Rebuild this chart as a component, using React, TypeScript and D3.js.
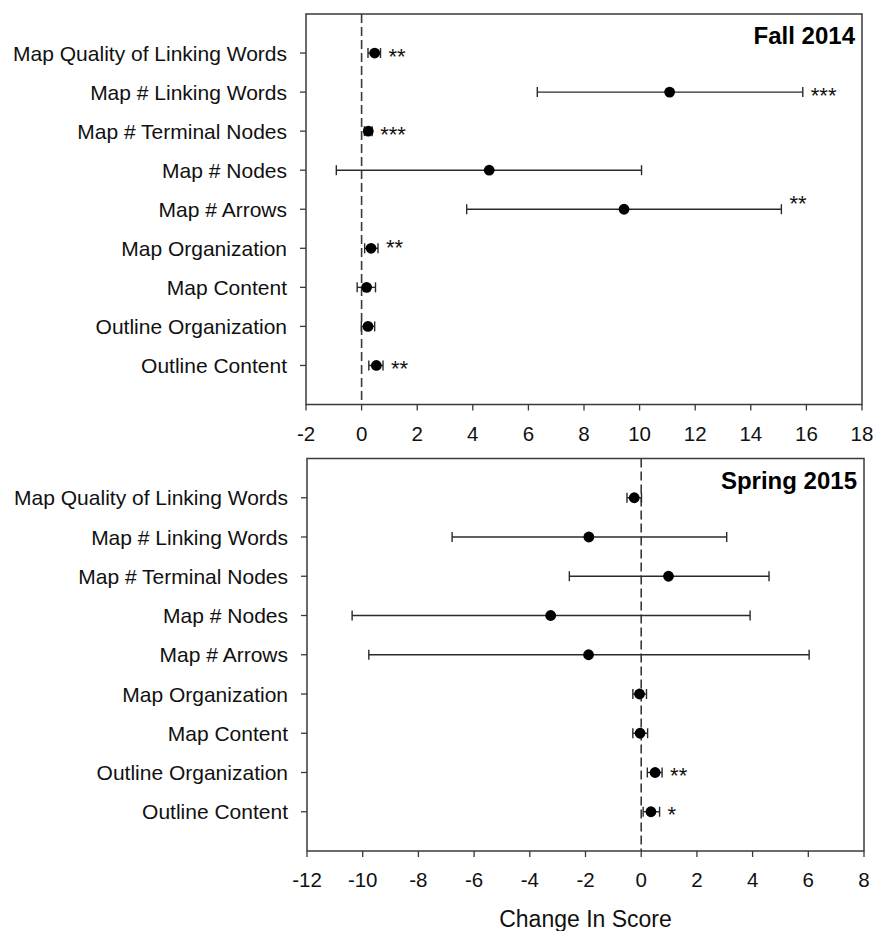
import React from "react";
import * as d3 from "d3";

const categories = [
  "Map Quality of Linking Words",
  "Map # Linking Words",
  "Map # Terminal Nodes",
  "Map # Nodes",
  "Map # Arrows",
  "Map Organization",
  "Map Content",
  "Outline Organization",
  "Outline Content",
];

const fallMean = [0.47, 11.08, 0.24, 4.59, 9.44, 0.34, 0.18, 0.23, 0.53];
const fallLow = [0.23, 6.32, 0.1, -0.91, 3.78, 0.11, -0.16, -0.01, 0.26];
const fallHigh = [0.68, 15.87, 0.38, 10.07, 15.1, 0.59, 0.5, 0.47, 0.77];
const fallStars = ["**", "***", "***", "", "**", "**", "", "", "**"];
const fallTicks = [-2, 0, 2, 4, 6, 8, 10, 12, 14, 16, 18];

const springMean = [-0.25, -1.88, 0.98, -3.25, -1.89, -0.06, -0.04, 0.5, 0.35];
const springLow = [-0.51, -6.79, -2.58, -10.38, -9.78, -0.3, -0.3, 0.22, 0.07];
const springHigh = [0.01, 3.07, 4.59, 3.91, 6.03, 0.19, 0.23, 0.75, 0.66];
const springStars = ["", "", "", "", "", "", "", "**", "*"];
const springTicks = [-12, -10, -8, -6, -4, -2, 0, 2, 4, 6, 8];

const xAxisTitle = "Change In Score";

// layout-only tweaks for annotation vertical offsets (px)
const fallStarRaise = [0, 0, 0, 0, -9, -4, 0, 0, 0];
const springStarRaise = [0, 0, 0, 0, 0, 0, 0, 0, 0];

const FONT = "'Liberation Sans', Arial, Helvetica, sans-serif";

type PanelProps = {
  title: string;
  left: number;
  right: number;
  top: number;
  bottom: number;
  ticks: number[];
  mean: number[];
  low: number[];
  high: number[];
  stars: string[];
  raise: number[];
};

function Panel(p: PanelProps) {
  const x = d3
    .scaleLinear()
    .domain([p.ticks[0], p.ticks[p.ticks.length - 1]])
    .range([p.left, p.right]);
  const y = d3.scaleLinear().domain([0, 10]).range([p.top, p.bottom]);
  const frame = "#3a3a3a";
  const cap = 5;
  return (
    <g>
      <line
        x1={x(0)}
        x2={x(0)}
        y1={p.top}
        y2={p.bottom}
        stroke="#3a3a3a"
        strokeWidth={1.6}
        strokeDasharray="9,4"
      />
      <rect
        x={p.left}
        y={p.top}
        width={p.right - p.left}
        height={p.bottom - p.top}
        fill="none"
        stroke={frame}
        strokeWidth={1.5}
      />
      {p.ticks.map((t) => (
        <g key={"xt" + t}>
          <line
            x1={x(t)}
            x2={x(t)}
            y1={p.bottom}
            y2={p.bottom + 6}
            stroke={frame}
            strokeWidth={1.3}
          />
          <text
            x={x(t)}
            y={p.bottom + 36}
            textAnchor="middle"
            fontSize={20.5}
            fontFamily={FONT}
            fill="#111"
          >
            {t}
          </text>
        </g>
      ))}
      {categories.map((c, i) => (
        <g key={"yt" + i}>
          <line
            x1={p.left - 6}
            x2={p.left}
            y1={y(i + 1)}
            y2={y(i + 1)}
            stroke={frame}
            strokeWidth={1.3}
          />
          <text
            x={p.left - 19}
            y={y(i + 1)}
            dy="0.36em"
            textAnchor="end"
            fontSize={21}
            fontFamily={FONT}
            fill="#111"
          >
            {c}
          </text>
        </g>
      ))}
      {categories.map((c, i) => {
        const yy = y(i + 1);
        return (
          <g key={"eb" + i} stroke="#2a2a2a" strokeWidth={1.4}>
            <line x1={x(p.low[i])} x2={x(p.high[i])} y1={yy} y2={yy} />
            <line x1={x(p.low[i])} x2={x(p.low[i])} y1={yy - cap} y2={yy + cap} />
            <line x1={x(p.high[i])} x2={x(p.high[i])} y1={yy - cap} y2={yy + cap} />
          </g>
        );
      })}
      {categories.map((c, i) => (
        <circle key={"pt" + i} cx={x(p.mean[i])} cy={y(i + 1)} r={5.4} fill="#000" />
      ))}
      {categories.map((c, i) =>
        p.stars[i] ? (
          <text
            key={"st" + i}
            x={x(Math.max(p.high[i], p.mean[i])) + 8}
            y={y(i + 1) + 10.5 + p.raise[i]}
            fontSize={22}
            fontFamily={FONT}
            fill="#111"
          >
            {p.stars[i]}
          </text>
        ) : null
      )}
      <text
        x={p.right - 7}
        y={p.top + 30}
        textAnchor="end"
        fontSize={24}
        fontWeight="bold"
        fontFamily={FONT}
        fill="#000"
      >
        {p.title}
      </text>
    </g>
  );
}

export default function App() {
  return (
    <svg
      width={876}
      height={931}
      style={{ position: "absolute", left: 0, top: 0, background: "#fff" }}
    >
      <rect x={0} y={0} width={876} height={931} fill="#fff" />
      <Panel
        title="Fall 2014"
        left={306}
        right={862}
        top={14}
        bottom={404.5}
        ticks={fallTicks}
        mean={fallMean}
        low={fallLow}
        high={fallHigh}
        stars={fallStars}
        raise={fallStarRaise}
      />
      <Panel
        title="Spring 2015"
        left={307}
        right={864}
        top={458.5}
        bottom={851}
        ticks={springTicks}
        mean={springMean}
        low={springLow}
        high={springHigh}
        stars={springStars}
        raise={springStarRaise}
      />
      <text
        x={585.5}
        y={927}
        textAnchor="middle"
        fontSize={23}
        fontFamily={FONT}
        fill="#111"
      >
        {xAxisTitle}
      </text>
    </svg>
  );
}
